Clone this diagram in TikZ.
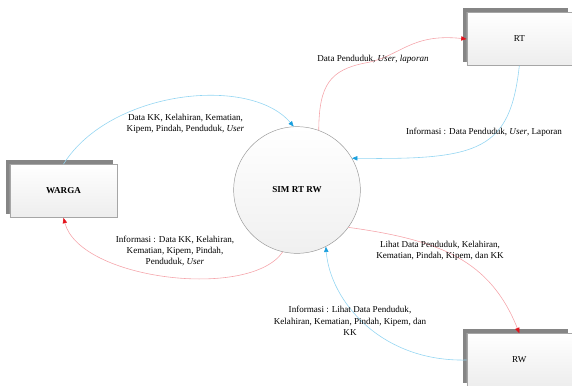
\documentclass[tikz,border=0pt]{standalone}
\usepackage{fontspec}
\setmainfont{Liberation Serif}
\usetikzlibrary{arrows.meta,shadows}
\definecolor{flowblue}{HTML}{93D5F2}
\definecolor{tipblue}{HTML}{1A9FDD}
\definecolor{flowred}{HTML}{F5A5AB}
\definecolor{tipred}{HTML}{E3121B}
\definecolor{edgegray}{HTML}{A6A6A6}
\definecolor{shadowgray}{HTML}{858585}

\begin{document}
\begin{tikzpicture}[x=0.03cm, y=-0.03cm,
  font=\fontsize{7.75}{9.6}\selectfont,
  entity/.style={draw=edgegray, top color=white, bottom color=gray!14,
    minimum width=3.15cm, minimum height=1.6cm, inner sep=0pt,
    general shadow={fill=shadowgray, shadow xshift=-1.2mm, shadow yshift=1.2mm}},
  process/.style={circle, draw=gray!80, top color=white, bottom color=gray!12,
    minimum size=3.8cm, inner sep=0pt, font=\fontsize{7.75}{9.6}\selectfont\bfseries},
  bluelink/.style={draw=flowblue, line width=0.5pt,
    -{Triangle[length=1.6mm, width=1.3mm, color=tipblue]}},
  redlink/.style={draw=flowred, line width=0.5pt,
    -{Triangle[length=1.6mm, width=1.3mm, color=tipred]}},
  flowlabel/.style={align=center, inner sep=0pt}]
  \useasboundingbox (0,0) rectangle (572,385);

  % --- Process and external entities ---
  \node[process] (sim) at (297,190) {SIM RT RW};
  \node[entity, minimum width=3.21cm, font=\fontsize{7.75}{9.6}\selectfont\bfseries]
    (warga) at (63.5,191) {WARGA};
  \node[entity] (rt) at (519.3,39) {RT};
  \node[entity] (rw) at (519.3,360) {RW};

  % --- WARGA <-> SIM RT RW ---
  \draw[bluelink] (warga.north) .. controls (110,90) and (250,75) .. (sim.93);
  \draw[redlink]  (sim.-103) .. controls (250,300) and (80,280) .. (warga.south);

  % --- SIM RT RW <-> RT ---
  \draw[redlink]  (sim.70) .. controls (319,85) and (330,70) .. (365,63)
                  .. controls (400,57) and (410,33) .. (rt.west);
  \draw[bluelink] (rt.south) .. controls (510,150) and (480,160) .. (sim.30);

  % --- SIM RT RW <-> RW ---
  \draw[redlink]  (sim.-36) .. controls (440,240) and (490,260) .. (rw.north);
  \draw[bluelink] (rw.west) .. controls (380,362) and (330,300) .. (sim.-63);

  % --- Flow labels ---
  \node[flowlabel] (lblwargain) at (185.5,124)
    {Data KK, Kelahiran, Kematian,\\Kipem, Pindah, Penduduk, \textit{User}};
  \node[flowlabel] (lblwargaout) at (175,251)
    {Informasi : Data KK, Kelahiran,\\Kematian, Kipem, Pindah,\\Penduduk, \textit{User}};
  \node[flowlabel] (lblrtout) at (373,59)
    {Data Penduduk, \textit{User}, \textit{laporan}};
  \node[flowlabel] (lblrtin) at (484,132)
    {Informasi : Data Penduduk, \textit{User}, Laporan};
  \node[flowlabel] (lblrwout) at (440,251)
    {Lihat Data Penduduk, Kelahiran,\\Kematian, Pindah, Kipem, dan KK};
  \node[flowlabel] (lblrwin) at (350,321)
    {Informasi : Lihat Data Penduduk,\\Kelahiran, Kematian, Pindah, Kipem, dan\\KK};
\end{tikzpicture}
\end{document}
